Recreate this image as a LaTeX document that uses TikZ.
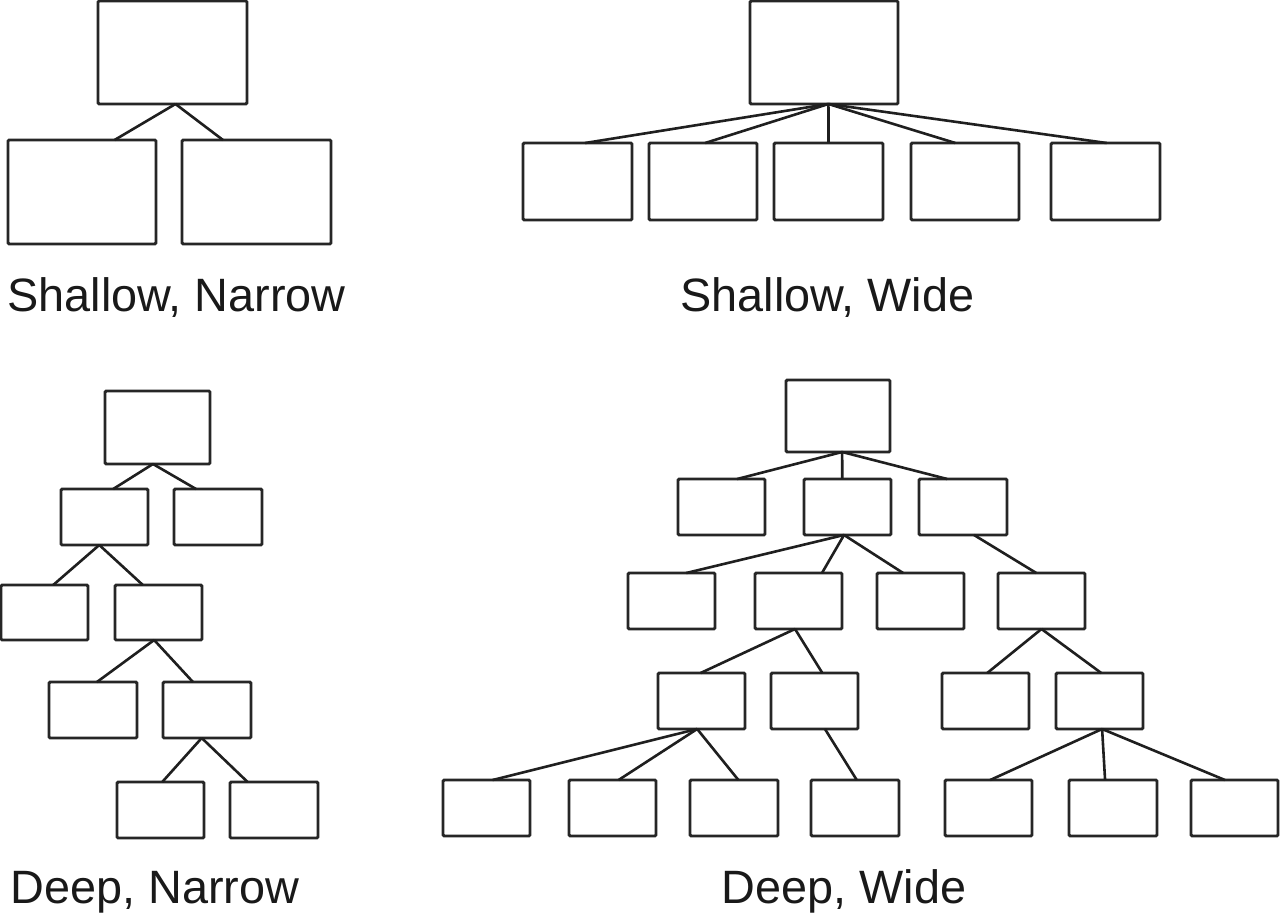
\documentclass[tikz,border=0pt]{standalone}
\usepackage{fontspec}
\setmainfont{Liberation Sans}
\usetikzlibrary{calc}
\tikzset{
  bx/.style={draw=black!85, line width=1.45pt, rectangle, inner sep=0pt, outer sep=0pt, rounded corners=0.6pt},
  conn/.style={draw=black!88, line width=1.3pt},
  lbl/.style={anchor=base, inner sep=0pt, font=\fontsize{23.4pt}{27pt}\selectfont, text=black!90}
}
\newcommand\mybox[5]{\node[bx, minimum width={(#4-#2)*0.5pt}, minimum height={(#5-#3)*0.5pt}] (#1) at ({(#2+#4)/2},{(#3+#5)/2}) {};}
\newcommand\cn[4]{\draw[conn] ($(#1.south west)!#2!(#1.south east)$) -- ($(#3.north west)!#4!(#3.north east)$);}
\begin{document}
\begin{tikzpicture}[x=0.5pt,y=-0.5pt]
\fill[white] (0,0) rectangle (1287,920);
\useasboundingbox (0,0) rectangle (1287,920);
% Shallow, Narrow
\mybox{snr}{98}{1}{247}{104}
\mybox{snl}{8}{140}{156}{244}
\mybox{snrr}{182}{140}{331}{244}
\cn{snr}{0.52}{snl}{0.72}
\cn{snr}{0.52}{snrr}{0.275}
\node[lbl] (lsn) at (176.5,312) {Shallow, Narrow};
% Shallow, Wide
\mybox{swr}{750}{1}{898}{104}
\mybox{sw1}{523}{143}{632}{220}
\mybox{sw2}{649}{143}{757}{220}
\mybox{sw3}{774}{143}{883}{220}
\mybox{sw4}{911}{143}{1019}{220}
\mybox{sw5}{1051}{143}{1160}{220}
\cn{swr}{0.53}{sw1}{0.57}
\cn{swr}{0.53}{sw2}{0.52}
\cn{swr}{0.53}{sw3}{0.5}
\cn{swr}{0.53}{sw4}{0.41}
\cn{swr}{0.53}{sw5}{0.51}
\node[lbl] (lsw) at (827.5,312) {Shallow, Wide};
% Deep, Narrow
\mybox{dn0}{105}{391}{210}{464}
\mybox{dn1a}{61}{489}{148}{545}
\mybox{dn1b}{174}{489}{262}{545}
\mybox{dn2a}{1}{585}{88}{640}
\mybox{dn2b}{115}{585}{202}{640}
\mybox{dn3a}{49}{682}{137}{738}
\mybox{dn3b}{163}{682}{251}{738}
\mybox{dn4a}{117}{782}{204}{838}
\mybox{dn4b}{230}{782}{318}{838}
\cn{dn0}{0.457}{dn1a}{0.6}
\cn{dn0}{0.457}{dn1b}{0.25}
\cn{dn1a}{0.44}{dn2a}{0.6}
\cn{dn1a}{0.44}{dn2b}{0.32}
\cn{dn2b}{0.45}{dn3a}{0.545}
\cn{dn2b}{0.45}{dn3b}{0.34}
\cn{dn3b}{0.44}{dn4a}{0.52}
\cn{dn3b}{0.44}{dn4b}{0.2}
\node[lbl] (ldn) at (155,903) {Deep, Narrow};
% Deep, Wide
\mybox{dw0}{786}{380}{890}{452}
\mybox{dw1a}{678}{479}{765}{535}
\mybox{dw1b}{804}{479}{891}{535}
\mybox{dw1c}{919}{479}{1007}{535}
\mybox{dw2a}{628}{573}{715}{629}
\mybox{dw2b}{755}{573}{842}{629}
\mybox{dw2c}{877}{573}{964}{629}
\mybox{dw2d}{998}{573}{1085}{629}
\mybox{dw3a}{658}{673}{745}{729}
\mybox{dw3b}{771}{673}{858}{729}
\mybox{dw3c}{942}{673}{1029}{729}
\mybox{dw3d}{1056}{673}{1143}{729}
\mybox{dw4a}{443}{780}{530}{836}
\mybox{dw4b}{569}{780}{656}{836}
\mybox{dw4c}{690}{780}{778}{836}
\mybox{dw4d}{811}{780}{899}{836}
\mybox{dw4e}{945}{780}{1032}{836}
\mybox{dw4f}{1069}{780}{1157}{836}
\mybox{dw4g}{1191}{780}{1278}{836}
\cn{dw0}{0.54}{dw1a}{0.68}
\cn{dw0}{0.54}{dw1b}{0.44}
\cn{dw0}{0.54}{dw1c}{0.32}
\cn{dw1b}{0.46}{dw2a}{0.67}
\cn{dw1b}{0.46}{dw2b}{0.77}
\cn{dw1b}{0.46}{dw2c}{0.3}
\cn{dw1c}{0.625}{dw2d}{0.44}
\cn{dw2b}{0.46}{dw3a}{0.49}
\cn{dw2b}{0.46}{dw3b}{0.59}
\cn{dw2d}{0.5}{dw3c}{0.52}
\cn{dw2d}{0.5}{dw3d}{0.52}
\cn{dw3a}{0.45}{dw4a}{0.57}
\cn{dw3a}{0.45}{dw4b}{0.57}
\cn{dw3a}{0.45}{dw4c}{0.55}
\cn{dw3b}{0.62}{dw4d}{0.52}
\cn{dw3d}{0.53}{dw4e}{0.52}
\cn{dw3d}{0.53}{dw4f}{0.41}
\cn{dw3d}{0.53}{dw4g}{0.39}
\node[lbl] (ldw) at (844,903) {Deep, Wide};
\end{tikzpicture}
\end{document}
